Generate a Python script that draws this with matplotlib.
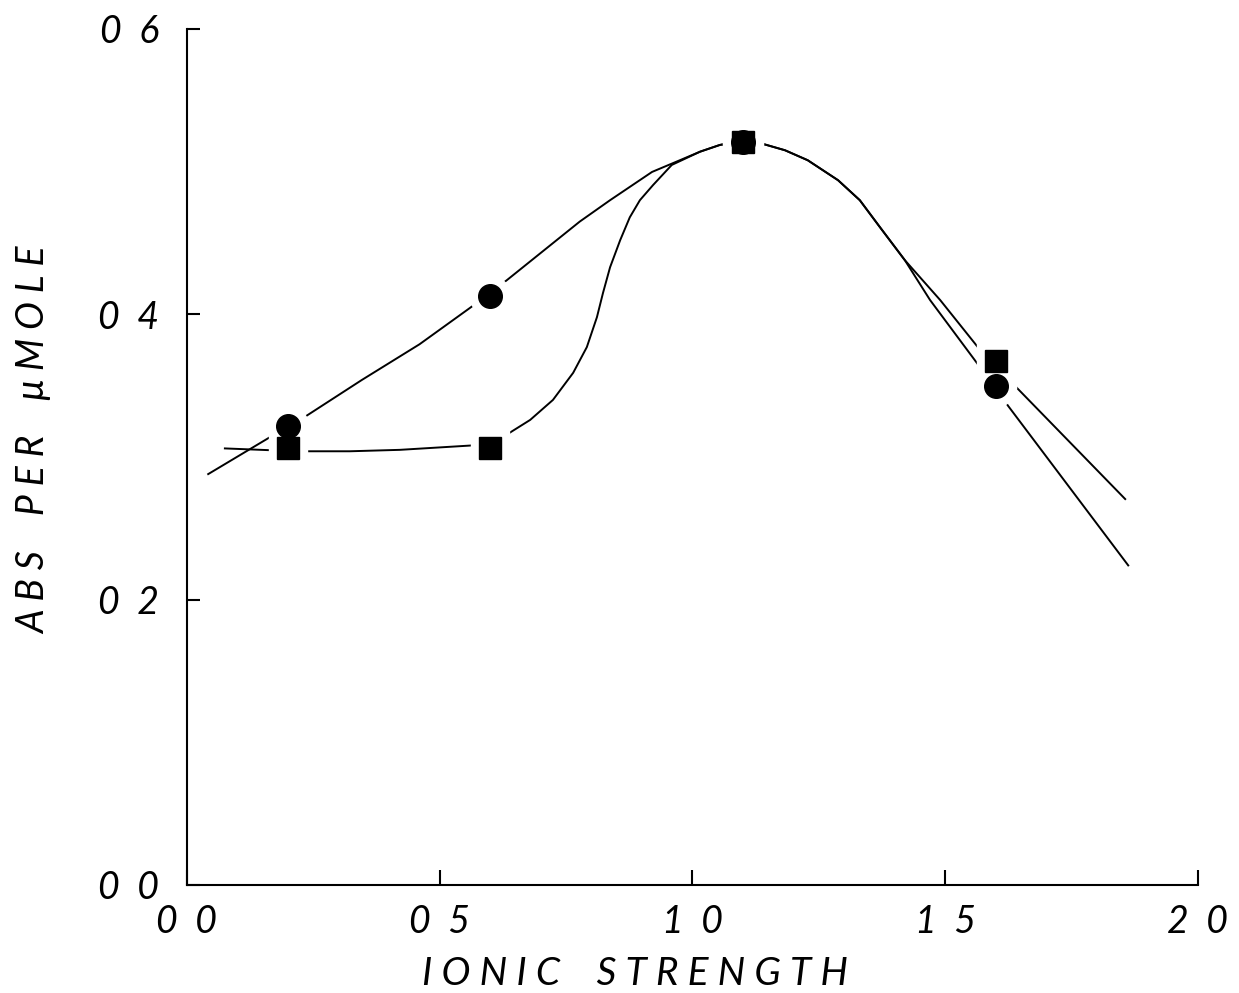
import matplotlib
matplotlib.use("Agg")
import matplotlib.pyplot as plt

# measured points
x_pts = [0.2, 0.6, 1.1, 1.6]
circle_y = [0.322, 0.413, 0.521, 0.350]
square_y = [0.306, 0.306, 0.521, 0.367]

# hand-drawn curves
circle_curve_x = [0.042, 0.160, 0.237, 0.346, 0.460, 0.554, 0.593, 0.633, 0.777,
                  0.837, 0.920, 0.975, 1.015, 1.054, 1.094, 1.133, 1.183, 1.228,
                  1.288, 1.331, 1.371, 1.420, 1.470, 1.575, 1.598, 1.624, 1.862]
circle_curve_y = [0.288, 0.313, 0.329, 0.354, 0.379, 0.403, 0.413, 0.424, 0.465,
                  0.480, 0.4998, 0.508, 0.514, 0.5187, 0.5215, 0.5201, 0.515, 0.508,
                  0.494, 0.480, 0.461, 0.438, 0.410, 0.360, 0.350, 0.336, 0.224]
square_curve_x = [0.075, 0.218, 0.322, 0.421, 0.560, 0.593, 0.625, 0.679, 0.724,
                  0.764, 0.791, 0.811, 0.823, 0.837, 0.857, 0.876, 0.896, 0.922,
                  0.959, 1.015, 1.054, 1.094, 1.133, 1.183, 1.228, 1.288, 1.331,
                  1.371, 1.420, 1.490, 1.569, 1.602, 1.632, 1.856]
square_curve_y = [0.306, 0.304, 0.304, 0.305, 0.308, 0.309, 0.314, 0.326, 0.340,
                  0.359, 0.377, 0.398, 0.415, 0.433, 0.452, 0.468, 0.480, 0.4906,
                  0.5047, 0.514, 0.5187, 0.5215, 0.5201, 0.515, 0.508, 0.494, 0.480,
                  0.461, 0.438, 0.410, 0.375, 0.367, 0.352, 0.2705]

x_ticks = [0.0, 0.5, 1.0, 1.5, 2.0]
x_ticklabels = ["0  0", "0  5", "1  0", "1  5", "2  0"]
y_ticks = [0.0, 0.2, 0.4, 0.6]
y_ticklabels = ["0  0", "0  2", "0  4", "0  6"]

font = dict(family="Lato", style="italic", weight="normal")

fig = plt.figure(figsize=(12.39, 9.93), dpi=100)
ax = fig.add_axes([0.1509, 0.1088, 0.8160, 0.8620])

ax.plot(circle_curve_x, circle_curve_y, color="black", lw=1.4, zorder=1)
ax.plot(square_curve_x, square_curve_y, color="black", lw=1.4, zorder=1)

# white halos give the gaps round the symbols
ax.plot(x_pts, square_y, "s", color="white", ms=27, zorder=2)
ax.plot(x_pts, circle_y, "o", color="white", ms=29, zorder=2)
ax.plot(x_pts, square_y, "s", color="black", ms=16, zorder=3)
ax.plot(x_pts, circle_y, "o", color="black", ms=17, zorder=3)

ax.set_xlim(0, 2.0)
ax.set_ylim(0, 0.6)
for s in ["top", "right"]:
    ax.spines[s].set_visible(False)
for s in ["left", "bottom"]:
    ax.spines[s].set_linewidth(1.5)

ax.set_xticks(x_ticks)
ax.set_xticklabels(x_ticklabels, fontsize=27, **font)
ax.set_yticks(y_ticks)
ax.set_yticklabels(y_ticklabels, fontsize=27, **font)
ax.tick_params(axis="x", direction="in", length=11, width=1.5, pad=14)
ax.tick_params(axis="y", direction="in", length=9, width=1.5, pad=20)

ax.set_xlabel("I O N I C    S T R E N G T H", fontsize=28, **font)
ax.xaxis.set_label_coords(0.443, -0.083)
ax.set_ylabel("A B S    P E R    μ M O L E", fontsize=27, **font)
ax.yaxis.set_label_coords(-0.133, 0.52)

fig.savefig("out.png", dpi=100)
